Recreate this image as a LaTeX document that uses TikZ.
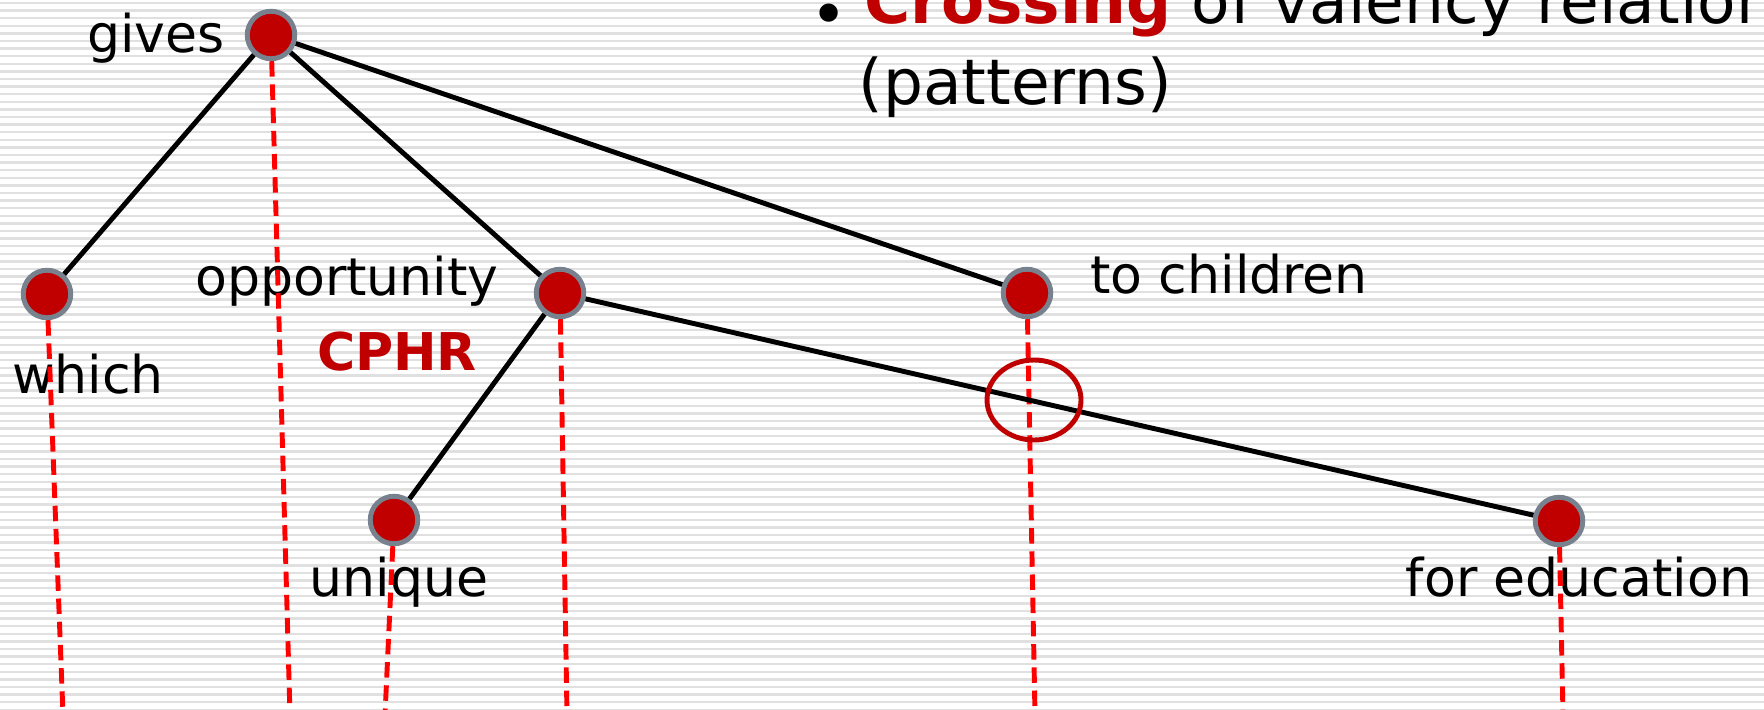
\documentclass[tikz,border=0pt]{standalone}
\usepackage{fontspec}
\setmainfont{DejaVu Sans}
\definecolor{nodered}{HTML}{C00000}
\definecolor{rimgray}{RGB}{120,130,142}
\definecolor{stripegray}{RGB}{224,224,224}

\begin{document}
\begin{tikzpicture}[x=0.01cm,y=-0.01cm,font=\fontsize{14.8}{18}\selectfont,word/.style={circle, fill=nodered, draw=rimgray, line width=1.4pt, minimum size=4.75mm, inner sep=0pt},tie/.style={line width=1.4pt},proj/.style={red, line width=1.4pt, dash pattern=on 4.4pt off 2.2pt},lbl/.style={anchor=base, inner sep=0pt},head/.style={anchor=base west, inner sep=0pt, font=\fontsize{17.9}{21}\selectfont},stripe/.style={stripegray, line width=0.7pt}]
\useasboundingbox (0,0) rectangle (1764,709);
\clip (0,0) rectangle (1764,709);
\fill[white] (0,0) rectangle (1764,709);
\foreach \y in {3,10.6,...,712} \draw[stripe] (0,\y) -- (1764,\y);
% heading, cut by the top edge
\node[head, anchor=base] (bullet) at (829,37) {•};
\node[head] (crossline) at (864,24) {\textcolor{nodered}{\textbf{Crossing}} of valency relations};
\node[head] (patterns) at (858,104) {(patterns)};
% word labels
\node[lbl] (lgives) at (156,52) {gives};\node[lbl] (lwhich) at (88,393) {which};\node[lbl] (lopp) at (347,295) {opportunity};\node[lbl] (lchildren) at (1229,293) {to children};\node[lbl] (lunique) at (399,596) {unique};\node[lbl] (leducation) at (1579,596) {for education};
\node[lbl, text=nodered, font=\fontsize{14.8}{18}\selectfont\bfseries] (lcphr) at (397,370) {CPHR};
% tree nodes
\node[word] (gives) at (271,35) {};\node[word] (which) at (47,294) {};\node[word] (opp) at (560,293) {};\node[word] (children) at (1027,293) {};\node[word] (unique) at (394,520) {};\node[word] (education) at (1559,521) {};
% projection lines down to the word order
\coordinate (whichfoot) at (63,715);\coordinate (givesfoot) at (290,715);\coordinate (uniquefoot) at (385,715);\coordinate (oppfoot) at (567,715);\coordinate (childrenfoot) at (1035,715);\coordinate (educationfoot) at (1563,715);
\draw[proj] (which) -- (whichfoot);\draw[proj] (gives) -- (givesfoot);\draw[proj] (unique) -- (uniquefoot);\draw[proj] (opp) -- (oppfoot);\draw[proj] (children) -- (childrenfoot);\draw[proj] (education) -- (educationfoot);
% dependency edges
\draw[tie] (gives) -- (which);\draw[tie] (gives) -- (opp);\draw[tie] (gives) -- (children);\draw[tie] (opp) -- (unique);\draw[tie] (opp) -- (education);
\draw[nodered, line width=1.4pt] (1034,400) ellipse [x radius=47, y radius=40];
\end{tikzpicture}
\end{document}
